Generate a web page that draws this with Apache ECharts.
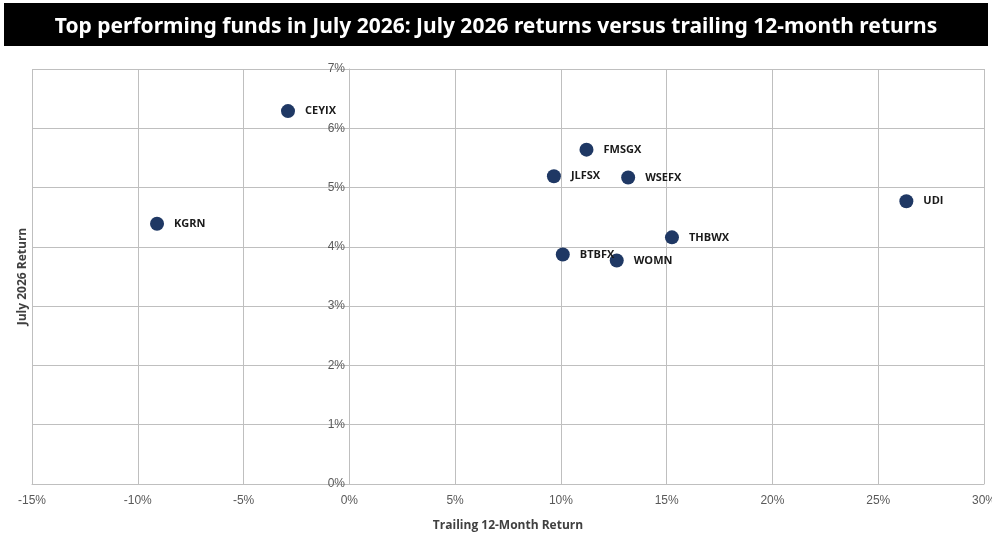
<!DOCTYPE html>
<html>
<head>
<meta charset="utf-8">
<script src="https://cdn.jsdelivr.net/npm/echarts@6/dist/echarts.min.js"></script>
<style>
html,body{margin:0;padding:0;background:#fff;}
#main{width:992px;height:553px;}
</style>
</head>
<body>
<div id="main"></div>
<script>
// fund tickers, trailing 12-month return (%), July 2026 return (%)
var funds = ['CEYIX','KGRN','FMSGX','JLFSX','WSEFX','UDI','THBWX','BTBFX','WOMN'];
var trailing = [-2.90, -9.09, 11.21, 9.67, 13.18, 26.33, 15.25, 10.09, 12.64];
var july = [6.29, 4.39, 5.64, 5.19, 5.17, 4.77, 4.16, 3.87, 3.77];

var chart = echarts.init(document.getElementById('main'));

var points = [];
for (var i = 0; i < funds.length; i++) {
	points.push({name: funds[i], value: [trailing[i], july[i]]});
}

chart.setOption({
	animation: false,
	graphic: [{
		type: 'rect',
		shape: {x: 4, y: 3, width: 984, height: 43},
		style: {fill: '#000'},
		z: 0
	}],
	title: {
		text: 'Top performing funds in July 2026: July 2026 returns versus trailing 12-month returns',
		left: 'center',
		top: 12,
		textStyle: {
			color: '#fff',
			fontFamily: 'Noto Sans',
			fontWeight: 'bold',
			fontSize: 21
		},
		z: 10
	},
	grid: {left: 32, right: 8, top: 69, bottom: 69, containLabel: false, outerBoundsMode: 'none'},
	xAxis: {
		type: 'value',
		min: -15,
		max: 30,
		interval: 5,
		name: 'Trailing 12-Month Return',
		nameLocation: 'middle',
		nameGap: 36,
		nameTextStyle: {color: '#404040', fontWeight: 'bold', fontSize: 12, fontFamily: 'Open Sans'},
		axisLine: {show: true, onZero: false, lineStyle: {color: '#bfbfbf'}},
		axisTick: {show: false},
		axisLabel: {color: '#595959', fontSize: 12, margin: 11, formatter: '{value}%', fontFamily: 'Liberation Sans'},
		splitLine: {show: true, lineStyle: {color: '#bfbfbf', width: 1}}
	},
	yAxis: {
		type: 'value',
		min: 0,
		max: 7,
		interval: 1,
		// labels sit on the x = 0 line, like the original
		offset: -317,
		name: 'July 2026 Return',
		nameLocation: 'middle',
		nameGap: 320,
		nameRotate: 90,
		nameTextStyle: {color: '#404040', fontWeight: 'bold', fontSize: 12, fontFamily: 'Open Sans'},
		axisLine: {show: true, onZero: false, lineStyle: {color: '#bfbfbf'}},
		axisTick: {show: false},
		axisLabel: {color: '#595959', fontSize: 12, margin: 4, formatter: '{value}%', fontFamily: 'Liberation Sans'},
		splitLine: {show: true, lineStyle: {color: '#bfbfbf', width: 1}}
	},
	series: [{
		type: 'scatter',
		symbolSize: 14,
		itemStyle: {color: '#1f3864', opacity: 1},
		data: points,
		label: {
			show: true,
			position: 'right',
			distance: 10,
			formatter: '{b}',
			color: '#1a1a1a',
			fontWeight: 'bold',
			fontSize: 11,
			fontFamily: 'Open Sans'
		}
	}]
});
</script>
</body>
</html>
